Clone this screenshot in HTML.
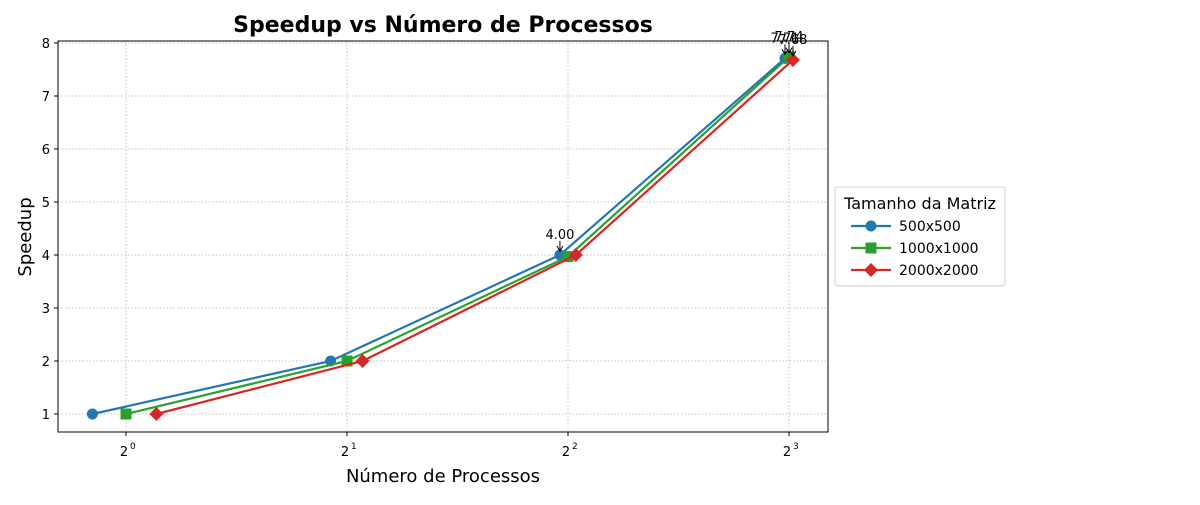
<!DOCTYPE html>
<html><head><meta charset="utf-8"><style>
body{margin:0;background:#fff;font-family:"Liberation Sans","DejaVu Sans",sans-serif}
</style></head><body>
<svg id="c" width="1200" height="500" xmlns="http://www.w3.org/2000/svg" font-family="DejaVu Sans, Liberation Sans, sans-serif">
<text x="443" y="32" text-anchor="middle" font-size="22" font-weight="bold">Speedup vs Número de Processos</text>
<text x="443" y="482" text-anchor="middle" font-size="18">Número de Processos</text>
<text transform="translate(31,237) rotate(-90)" text-anchor="middle" font-size="18">Speedup</text>
<g id="grid"></g><g id="series"></g><g id="ticks"></g>
<rect x="58" y="41" width="770" height="391" fill="none" stroke="#000" stroke-width="1"/>
<g>
<rect x="835" y="187" width="170" height="99" rx="3" fill="#fff" stroke="#ccc"/>
<text x="920" y="209" text-anchor="middle" font-size="16">Tamanho da Matriz</text>
<g id="leg"></g>
</g>
</svg>
<script>
const xValues=[1,2,4,8];
const seriesNames=["500x500","1000x1000","2000x2000"];
const series500=[1,2,4,7.71];
const series1000=[1,2,3.97,7.74];
const series2000=[1,2,4.0,7.68];
const yTicks=[1,2,3,4,5,6,7,8];
const xTickExp=[0,1,2,3];
const ns="http://www.w3.org/2000/svg";
const X=v=>126+221*Math.log2(v);
const Y=v=>414-53*(v-1);
function mk(t,a,p){const e=document.createElementNS(ns,t);for(const k in a)e.setAttribute(k,a[k]);p.appendChild(e);return e;}
const grid=document.getElementById('grid'),ticks=document.getElementById('ticks'),ser=document.getElementById('series'),leg=document.getElementById('leg');
yTicks.forEach(v=>{const y=Y(v);
 const g=mk('line',{x1:58,x2:828,y1:y,y2:y,stroke:'#b0b0b0','stroke-dasharray':'1.5,2','stroke-width':0.8},grid);
 
 
 mk('line',{x1:54,x2:58,y1:y,y2:y,stroke:'#000'},ticks);
 const t=mk('text',{x:50,y:y+5,'text-anchor':'end','font-size':13},ticks);t.textContent=v;
 
 
});
xTickExp.forEach(e=>{const x=X(Math.pow(2,e));
 const g=mk('line',{x1:x,x2:x,y1:41,y2:432,stroke:'#b0b0b0','stroke-dasharray':'1.5,2','stroke-width':0.8},grid);
 
 
 mk('line',{x1:x,x2:x,y1:432,y2:436,stroke:'#000'},ticks);
 const t=mk('text',{x:x-2,y:456,'text-anchor':'middle','font-size':13},ticks);t.textContent='2';
 
 
 const s=mk('text',{x:x+4,y:449,'text-anchor':'start','font-size':9},ticks);s.textContent=e;
});
const colors=['#1f77b4','#2ca02c','#d62728'];
const offsets=[-0.1,0,0.1];
const data=[series500,series1000,series2000];
function marker(i,x,y,p){
 if(i==0)return mk('circle',{cx:x,cy:y,r:5.5,fill:colors[i]},p);
 if(i==1)return mk('rect',{x:x-5.5,y:y-5.5,width:11,height:11,fill:colors[i]},p);
 return mk('polygon',{points:`${x},${y-7} ${x+7},${y} ${x},${y+7} ${x-7},${y}`,fill:colors[i]},p);
}
data.forEach((vals,i)=>{
 const g=mk('g',{},ser);
 
 
 const pts=vals.map((v,j)=>[X(xValues[j]+offsets[i]),Y(v)]);
 mk('polyline',{points:pts.map(p=>p.join(',')).join(' '),fill:'none',stroke:colors[i],'stroke-width':2.2},g);
 pts.forEach(p=>{const m=marker(i,p[0],p[1],g);
  
  });
});
const ann=[[0,2],[0,3],[1,3],[2,3]];
ann.forEach(([i,j])=>{
 const x=X(xValues[j]+offsets[i]),y=Y(data[i][j]);
 const g=mk('g',{},ser);
 
 
 mk('line',{x1:x,x2:x,y1:y-14,y2:y-4,stroke:'#000','stroke-width':1},g);
 mk('polyline',{points:`${x-3},${y-9} ${x},${y-4} ${x+3},${y-9}`,fill:'none',stroke:'#000'},g);
 const t=mk('text',{x:x,y:y-16,'text-anchor':'middle','font-size':13},g);t.textContent=data[i][j].toFixed(2);
});
seriesNames.forEach((n,i)=>{const y=226+22*i;
 const g=mk('g',{},leg);
 
 
 mk('line',{x1:851,x2:891,y1:y,y2:y,stroke:colors[i],'stroke-width':2.2},g);
 marker(i,871,y,g);
 const t=mk('text',{x:899,y:y+5,'font-size':14},g);t.textContent=n;
});
</script>
</body></html>
